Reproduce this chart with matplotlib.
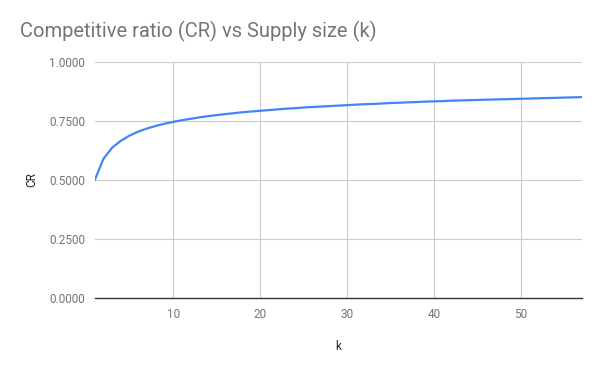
import matplotlib
matplotlib.use("Agg")
from matplotlib import pyplot as plt

plt.rcParams['font.family'] = ['Roboto', 'DejaVu Sans']

# supply size k and competitive ratio
k_values = list(range(1, 58))
cr_values = [
    0.500, 0.590, 0.637, 0.666, 0.688, 0.705, 0.718, 0.729, 0.738, 0.746,
    0.753, 0.759, 0.765, 0.770, 0.775, 0.779, 0.783, 0.787, 0.790, 0.793,
    0.796, 0.799, 0.802, 0.804, 0.807, 0.809, 0.811, 0.813, 0.815, 0.817,
    0.819, 0.821, 0.822, 0.824, 0.826, 0.827, 0.829, 0.830, 0.832, 0.833,
    0.834, 0.836, 0.837, 0.838, 0.839, 0.840, 0.841, 0.842, 0.843, 0.844,
    0.845, 0.846, 0.847, 0.848, 0.849, 0.850, 0.851,
]
y_ticks = [0.0, 0.25, 0.5, 0.75, 1.0]
x_ticks = [10, 20, 30, 40, 50]

fig = plt.figure(figsize=(6, 3.71), dpi=100)
ax = fig.add_axes([0.158, 0.197, 0.812, 0.636])

ax.plot(k_values, cr_values, color="#4285F4", linewidth=1.6, solid_joinstyle="round")

ax.set_xlim(1, 57)
ax.set_ylim(0, 1.0)
ax.set_xticks(x_ticks)
ax.set_yticks(y_ticks)
ax.set_yticklabels(["%.4f" % v for v in y_ticks])
ax.grid(True, color="#cccccc", linewidth=0.8)
ax.set_axisbelow(True)
for side in ["top", "right", "left"]:
    ax.spines[side].set_visible(False)
ax.spines["bottom"].set_color("#333333")
ax.spines["bottom"].set_linewidth(1.0)
ax.tick_params(length=0, labelsize=8.5, colors="#757575", pad=7)

ax.set_xlabel("k", fontsize=8.5, color="#222222", labelpad=14)
ax.set_ylabel("CR", fontsize=8.5, color="#222222", labelpad=8)

fig.text(0.033, 0.915, "Competitive ratio (CR) vs Supply size (k)",
         fontsize=14.5, color="#757575", va="center", ha="left")

fig.savefig("out.png", dpi=100)
